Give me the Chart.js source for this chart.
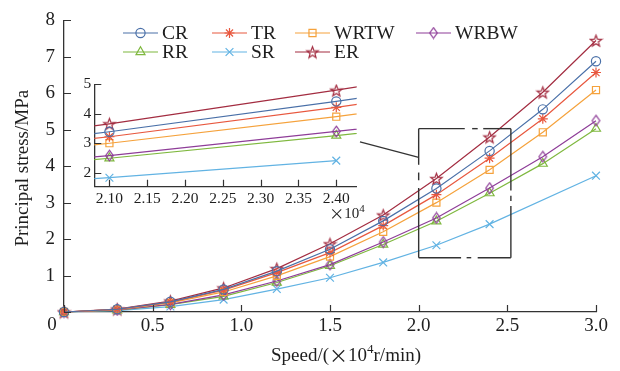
<!DOCTYPE html>
<html>
<head>
<meta charset="utf-8">
<script src="https://cdn.jsdelivr.net/npm/chart.js@4.4.1/dist/chart.umd.min.js"></script>
<style>
html, body { margin: 0; padding: 0; background: #fff; }
#wrap { position: relative; width: 620px; height: 371px; }
#main { position: absolute; left: 0; top: 0; }
#inset { position: absolute; left: 60px; top: 70px; }
</style>
</head>
<body>
<div id="wrap">
  <canvas id="main" width="620" height="371"></canvas>
  <canvas id="inset" width="310" height="160"></canvas>
</div>
<script>
// Données (vitesse en 10^4 r/min, contrainte en MPa)
var speed = [0, 0.3, 0.6, 0.9, 1.2, 1.5, 1.8, 2.1, 2.4, 2.7, 3.0];
var CR    = [0, 0.075, 0.28, 0.62, 1.12, 1.72, 2.50, 3.39, 4.42, 5.56, 6.88];
var TR    = [0, 0.07, 0.27, 0.60, 1.08, 1.63, 2.37, 3.22, 4.22, 5.30, 6.57];
var WRTW  = [0, 0.065, 0.25, 0.55, 0.99, 1.52, 2.20, 3.00, 3.90, 4.93, 6.09];
var WRBW  = [0, 0.055, 0.21, 0.47, 0.85, 1.30, 1.92, 2.58, 3.40, 4.26, 5.25];
var RR    = [0, 0.05, 0.20, 0.43, 0.81, 1.27, 1.85, 2.49, 3.26, 4.07, 5.03];
var SR    = [0, 0.04, 0.15, 0.34, 0.63, 0.94, 1.36, 1.83, 2.41, null, 3.74];
var ER    = [0, 0.08, 0.30, 0.66, 1.19, 1.87, 2.66, 3.66, 4.80, 6.03, 7.45];

var xTicks      = [0, 0.5, 1.0, 1.5, 2.0, 2.5, 3.0];
var yTicks      = [0, 1, 2, 3, 4, 5, 6, 7, 8];
var insetXTicks = [2.10, 2.15, 2.20, 2.25, 2.30, 2.35, 2.40];
var insetYTicks = [2, 3, 4, 5];

var SERIF = '"Liberation Serif", "DejaVu Serif", serif';
var CJK   = '"Noto Sans CJK SC", sans-serif';
var INK   = '#1e1e1e';
var AXIS  = '#333333';

// Marqueurs spéciaux : étoile à 5 branches et losange étiré
function etoile(color) {
    var c = document.createElement('canvas');
    c.width = 15; c.height = 15;
    var g = c.getContext('2d');
    g.strokeStyle = color; g.lineWidth = 1.2;
    g.beginPath();
    for (var k = 0; k < 10; k++) {
        var r = k % 2 ? 2.5 : 6.0;
        var ang = -Math.PI / 2 + k * Math.PI / 5;
        var px = 7.5 + r * Math.cos(ang), py = 8.2 + r * Math.sin(ang);
        if (k) { g.lineTo(px, py); } else { g.moveTo(px, py); }
    }
    g.closePath(); g.stroke();
    return c;
}
function losange(color) {
    var c = document.createElement('canvas');
    c.width = 11; c.height = 13;
    var g = c.getContext('2d');
    g.strokeStyle = color; g.lineWidth = 1.2;
    g.beginPath();
    g.moveTo(5.5, 1.2); g.lineTo(9.3, 6.5); g.lineTo(5.5, 11.8); g.lineTo(1.7, 6.5);
    g.closePath(); g.stroke();
    return c;
}

var series = [
    { label: 'CR',   data: CR,   color: '#4a70a8', style: 'circle',    r: 4.6 },
    { label: 'TR',   data: TR,   color: '#e8583f', style: 'star',      r: 5 },
    { label: 'WRTW', data: WRTW, color: '#f5a23c', style: 'rect',      r: 5 },
    { label: 'WRBW', data: WRBW, color: '#8e3d98', style: 'losange',   r: 5 },
    { label: 'RR',   data: RR,   color: '#7fb83f', style: 'triangle',  r: 5.2 },
    { label: 'SR',   data: SR,   color: '#62b3e3', style: 'crossRot',  r: 5.5 },
    { label: 'ER',   data: ER,   color: '#a32d41', style: 'etoile',    r: 6 }
];

function jeux(clip) {
    return series.map(function (s) {
        var st = s.style === 'etoile' ? etoile(s.color) : (s.style === 'losange' ? losange(s.color) : s.style);
        return {
            label: s.label,
            data: speed.map(function (x, i) { return { x: x, y: s.data[i] }; }),
            borderColor: s.color,
            backgroundColor: 'rgba(0,0,0,0)',
            borderWidth: 1.2,
            pointStyle: st,
            pointRadius: s.r,
            pointBorderWidth: 1.2,
            pointBorderColor: s.color,
            pointBackgroundColor: 'rgba(0,0,0,0)',
            tension: 0,
            spanGaps: true,
            clip: clip
        };
    });
}

function fixTicks(list) {
    return function (scale) { scale.ticks = list.map(function (v) { return { value: v }; }); };
}

// Graduations tournées vers l'intérieur
var tiretsInternes = {
    id: 'tiretsInternes',
    afterDraw: function (chart) {
        var ctx = chart.ctx, a = chart.chartArea, len = 7;
        var xs = chart.scales.x, ys = chart.scales.y;
        ctx.save();
        ctx.strokeStyle = AXIS; ctx.lineWidth = 1.2;
        ctx.beginPath();
        xs.ticks.forEach(function (t) {
            var px = Math.round(xs.getPixelForValue(t.value)) + 0.5;
            ctx.moveTo(px, a.bottom); ctx.lineTo(px, a.bottom - len);
        });
        ys.ticks.forEach(function (t) {
            var py = Math.round(ys.getPixelForValue(t.value)) + 0.5;
            ctx.moveTo(a.left, py); ctx.lineTo(a.left + len, py);
        });
        ctx.stroke();
        ctx.restore();
    }
};

// Texte composé avec exposant ("×10^4")
function texteExposant(ctx, parts, x, y, align) {
    var w = 0;
    parts.forEach(function (p) { ctx.font = p.f; p.w = ctx.measureText(p.t).width; w += p.w; });
    var cx = align === 'right' ? x - w : x - w / 2;
    ctx.textBaseline = 'middle';
    ctx.textAlign = 'left';
    parts.forEach(function (p) {
        ctx.font = p.f;
        ctx.fillText(p.t, cx, y + (p.dy || 0));
        cx += p.w;
    });
}

// Légende, titres, zone de zoom et trait de rappel
var decorPrincipal = {
    id: 'decorPrincipal',
    afterDraw: function (chart) {
        var ctx = chart.ctx, a = chart.chartArea;
        var xs = chart.scales.x, ys = chart.scales.y;
        ctx.save();

        // Légende sur deux rangées, colonnes alignées
        var rangs = [[0, 1, 2, 3], [4, 5, 6]];
        var colX = [123, 212, 295, 416];
        var rangY = [33, 52];
        rangs.forEach(function (r, ri) {
            r.forEach(function (di, ci) {
                var ds = chart.data.datasets[di];
                var x0 = colX[ci], y0 = rangY[ri];
                ctx.strokeStyle = ds.borderColor; ctx.lineWidth = 1.2;
                ctx.beginPath(); ctx.moveTo(x0, y0); ctx.lineTo(x0 + 35, y0); ctx.stroke();
                ctx.fillStyle = 'rgba(0,0,0,0)';
                Chart.helpers.drawPoint(ctx, { pointStyle: ds.pointStyle, radius: ds.pointRadius, borderWidth: 1.2, rotation: 0 }, x0 + 17.5, y0);
                ctx.fillStyle = INK;
                ctx.font = '19.5px ' + SERIF;
                ctx.textAlign = 'left'; ctx.textBaseline = 'middle';
                ctx.fillText(ds.label, x0 + 39, y0 + 1);
            });
        });

        // Rectangle de zoom en trait mixte
        var L = xs.getPixelForValue(2.0), R = xs.getPixelForValue(2.52);
        var T = ys.getPixelForValue(5.03), B = ys.getPixelForValue(1.49);
        ctx.strokeStyle = AXIS; ctx.lineWidth = 1.4;
        function cote(x1, y1, x2, y2, morceaux) {
            morceaux.forEach(function (m) {
                ctx.beginPath();
                ctx.moveTo(x1 + (x2 - x1) * m[0], y1 + (y2 - y1) * m[0]);
                ctx.lineTo(x1 + (x2 - x1) * m[1], y1 + (y2 - y1) * m[1]);
                ctx.stroke();
            });
        }
        cote(L, T, R, T, [[0, 0.50], [0.58, 0.64], [0.70, 1]]);
        cote(L, B, R, B, [[0, 0.46], [0.52, 0.57], [0.64, 1]]);
        cote(L, T, L, B, [[0, 0.28], [0.34, 0.40], [0.46, 1]]);
        cote(R, T, R, B, [[0, 0.48], [0.52, 0.56], [0.60, 1]]);

        // Trait de rappel vers l'encart
        ctx.lineWidth = 1.2;
        ctx.beginPath();
        ctx.moveTo(xs.getPixelForValue(1.669), ys.getPixelForValue(4.667));
        ctx.lineTo(L, ys.getPixelForValue(4.24));
        ctx.stroke();

        // Origine "0"
        ctx.fillStyle = INK;
        ctx.font = '19px ' + SERIF;
        ctx.textAlign = 'center'; ctx.textBaseline = 'middle';
        ctx.fillText('0', a.left - 12, a.bottom + 13);

        // Titre vertical
        ctx.save();
        ctx.translate(23, (a.top + a.bottom) / 2 + 2);
        ctx.rotate(-Math.PI / 2);
        ctx.fillText('Principal stress/MPa', 0, 0);
        ctx.restore();

        // Titre horizontal
        texteExposant(ctx, [
            { t: 'Speed/(', f: '19px ' + SERIF },
            { t: '×', f: '19px ' + CJK },
            { t: '10', f: '19px ' + SERIF },
            { t: '4', f: '13px ' + SERIF, dy: -6 },
            { t: 'r/min)', f: '19px ' + SERIF }
        ], 346, 356, 'center');

        ctx.restore();
    }
};

var decorEncart = {
    id: 'decorEncart',
    afterDraw: function (chart) {
        var ctx = chart.ctx, a = chart.chartArea;
        ctx.save();
        ctx.fillStyle = INK;
        texteExposant(ctx, [
            { t: '×', f: '15px ' + CJK },
            { t: '10', f: '15px ' + SERIF },
            { t: '4', f: '11px ' + SERIF, dy: -5 }
        ], a.right + 8, a.bottom + 27, 'right');
        ctx.restore();
    }
};

function axeX(min, max, ticks, font, fmt, height) {
    return {
        type: 'linear', min: min, max: max,
        afterBuildTicks: fixTicks(ticks),
        afterFit: function (s) { s.height = height; },
        grid: { drawOnChartArea: false, drawTicks: false },
        border: { display: true, color: AXIS, width: 1.3 },
        ticks: { color: INK, font: font, padding: 3, maxRotation: 0, autoSkip: false, callback: fmt }
    };
}
function axeY(min, max, ticks, font, fmt, width, pad) {
    return {
        type: 'linear', min: min, max: max,
        afterBuildTicks: fixTicks(ticks),
        afterFit: function (s) { s.width = width; },
        grid: { drawOnChartArea: false, drawTicks: false },
        border: { display: true, color: AXIS, width: 1.3 },
        ticks: { color: INK, font: font, padding: pad, autoSkip: false, callback: fmt }
    };
}

new Chart(document.getElementById('main'), {
    type: 'line',
    data: { datasets: jeux(false) },
    options: {
        responsive: false,
        animation: false,
        layout: { padding: { top: 12, right: 24, left: 0, bottom: 0 } },
        plugins: { legend: { display: false }, tooltip: { enabled: false } },
        scales: {
            x: axeX(0, 3.0, xTicks, { family: SERIF, size: 19 },
                function (v) { return v === 0 ? '' : v.toFixed(1); }, 59),
            y: axeY(0, 8, yTicks, { family: SERIF, size: 19 },
                function (v) { return v === 0 ? '' : String(v); }, 64, 9)
        }
    },
    plugins: [tiretsInternes, decorPrincipal]
});

new Chart(document.getElementById('inset'), {
    type: 'line',
    data: { datasets: jeux(true) },
    options: {
        responsive: false,
        animation: false,
        layout: { padding: { top: 14.3, right: 13.3, left: 0, bottom: 0 } },
        plugins: { legend: { display: false }, tooltip: { enabled: false } },
        scales: {
            x: axeX(2.08, 2.427, insetXTicks, { family: SERIF, size: 15.5 },
                function (v) { return v.toFixed(2); }, 43.3),
            y: axeY(1.525, 5.0, insetYTicks, { family: SERIF, size: 15.5 },
                function (v) { return String(v); }, 34.3, 3)
        }
    },
    plugins: [tiretsInternes, decorEncart]
});
</script>
</body>
</html>
